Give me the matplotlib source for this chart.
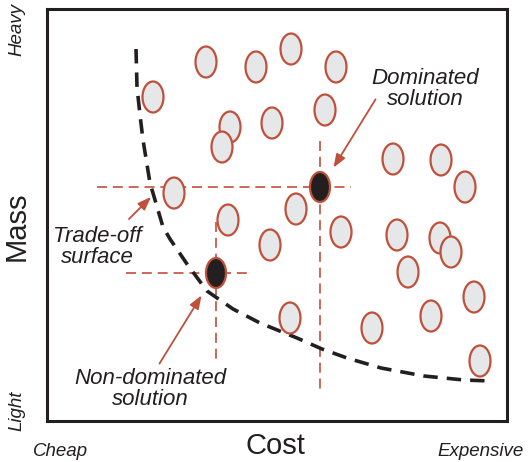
import matplotlib.pyplot as plt
from matplotlib.patches import Ellipse

# solution cloud (cost, mass) in picture units; mass grows upward on the page
cost = [153, 206, 256, 291, 336, 230, 222, 272, 325, 393, 441, 465, 174,
        296, 228, 341, 270, 397, 440, 451, 408, 474, 431, 372, 290, 480]
mass = [97, 62, 67, 49, 67, 127, 147, 123, 110, 159, 160, 187, 193,
        209, 220, 232, 245, 235, 238, 252, 272, 297, 316, 328, 318, 361]

dominated = (320, 187)
non_dominated = (216, 273)

# trade-off (Pareto) front
front_cost = [136, 137, 140, 143, 150, 163, 170, 187, 207, 233, 260, 297,
              322, 347, 381, 424, 464, 491]
front_mass = [49, 87, 115, 140, 183, 227, 239, 264, 291, 309, 323, 338,
              349, 358, 368, 376, 380, 381]

W, H = 528, 462
RED = '#c0503a'
INK = '#231f20'
FONT = 'Liberation Sans'

fig = plt.figure(figsize=(W / 100, H / 100), dpi=100)
ax = fig.add_axes([47 / W, 1 - 421 / H, 460 / W, 412 / H])
ax.set_xlim(47, 507)
ax.set_ylim(421, 9)
ax.set_xticks([])
ax.set_yticks([])
for s in ax.spines.values():
    s.set_linewidth(2.2)
    s.set_color(INK)

dash = dict(color=RED, lw=1.2, dashes=(6, 3.5), zorder=1)
# crosshairs through the two highlighted solutions
ax.plot([97, 351], [dominated[1]] * 2, **dash)
ax.plot([dominated[0]] * 2, [141, 390], **dash)
ax.plot([126, 249], [non_dominated[1]] * 2, **dash)
ax.plot([non_dominated[0]] * 2, [222, 360], **dash)

ax.plot(front_cost, front_mass, color=INK, lw=2.6, dashes=(4, 2.5), zorder=2)

for x, y in zip(cost, mass):
    ax.add_patch(Ellipse((x, y), 21, 31, facecolor='#e6e7e8', edgecolor=RED,
                         lw=1.6, zorder=3))
for x, y in (dominated, non_dominated):
    ax.add_patch(Ellipse((x, y), 20, 30, facecolor=INK, edgecolor=RED,
                         lw=1.6, zorder=3))

arrow = dict(arrowstyle='-|>,head_length=0.8,head_width=0.3', color=RED, lw=1.3)
ax.annotate('Dominated\nsolution', xy=(332, 170), xytext=(425, 89),
            ha='center', va='center', fontsize=16, style='italic', family=FONT,
            color=INK, linespacing=0.95, zorder=4)
ax.annotate('', xy=(332, 170), xytext=(377, 97), arrowprops=arrow)
ax.text(97, 247, 'Trade-off\nsurface', ha='center', va='center', fontsize=16,
        style='italic', family=FONT, color=INK, linespacing=0.95)
ax.annotate('', xy=(153, 195), xytext=(127, 221), arrowprops=arrow)
ax.text(150, 389, 'Non-dominated\nsolution', ha='center', va='center', fontsize=16,
        style='italic', family=FONT, color=INK, linespacing=0.95)
ax.annotate('', xy=(203, 293), xytext=(158, 366), arrowprops=arrow)


def ftext(x, y, s, **kw):
    fig.text(x / W, 1 - y / H, s, ha='center', va='center', family=FONT,
             color=INK, **kw)


ftext(275, 446, 'Cost', fontsize=21)
ftext(17, 226, 'Mass', fontsize=21, rotation=90)
ftext(60, 451, 'Cheap', fontsize=13.5, style='italic')
ftext(481, 451, 'Expensive', fontsize=13.5, style='italic')
ftext(17, 30, 'Heavy', fontsize=13.5, style='italic', rotation=90)
ftext(17, 411, 'Light', fontsize=13.5, style='italic', rotation=90)

fig.savefig('out.png', dpi=100)
